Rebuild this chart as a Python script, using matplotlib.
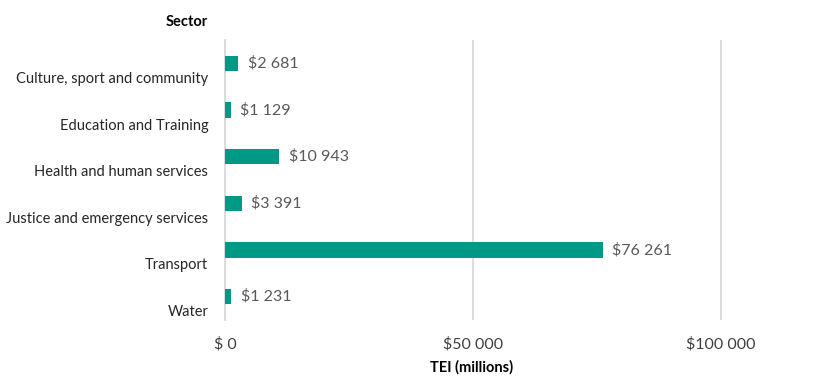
import matplotlib.pyplot as plt

plt.rcParams['font.family'] = ['Lato', 'DejaVu Sans']

# Data
sectors = ["Culture, sport and community", "Education and Training",
           "Health and human services", "Justice and emergency services",
           "Transport", "Water"]
tei = [2681, 1129, 10943, 3391, 76261, 1231]
x_ticks = [0, 50000, 100000]
x_tick_labels = ["$ 0", "$50 000", "$100 000"]

fig = plt.figure(figsize=(8.2, 3.85), dpi=100)
ax = fig.add_axes([0.2744, 0.169, 0.707, 0.727])

y = list(range(len(sectors)))
ax.barh(y, tei, height=0.33, color="#009985", zorder=3)

for yi, v in zip(y, tei):
    ax.text(v + 1900, yi, "$" + f"{v:,}".replace(",", " "),
            va="center", ha="left", fontsize=11.5, color="#595959")

ax.set_xlim(0, 117000)
ax.set_ylim(len(sectors) - 0.5, -0.5)
ax.set_xticks(x_ticks)
ax.set_xticklabels(x_tick_labels, fontsize=11.5, color="#404040")
# category labels sit a little below the bars
ax.set_yticks([yi + 0.3 for yi in y])
ax.set_yticklabels(sectors, fontsize=10.5, color="#262626")

ax.tick_params(axis="both", length=0)
ax.tick_params(axis="x", pad=12)
ax.tick_params(axis="y", pad=12)
ax.grid(axis="x", color="#d9d9d9", linewidth=1.3, zorder=0)
for s in ["top", "right", "bottom"]:
    ax.spines[s].set_visible(False)
ax.spines["left"].set_color("#d9d9d9")
ax.spines["left"].set_linewidth(1.3)

fig.text(208 / 820, 1 - 22 / 385, "Sector", ha="right", va="center",
         fontsize=10.5, fontweight="bold", color="#000000")
fig.text(472 / 820, 1 - 367 / 385, "TEI (millions)", ha="center", va="center",
         fontsize=10.5, fontweight="bold", color="#000000")

fig.savefig("out.png", dpi=100)
